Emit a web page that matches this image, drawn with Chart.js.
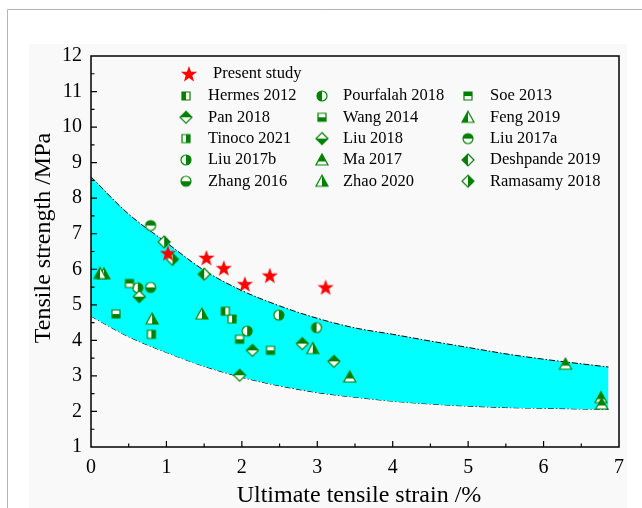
<!DOCTYPE html>
<html lang="en">
<head>
    <meta charset="UTF-8">
    <title>Tensile strength vs ultimate tensile strain</title>
    <script src="https://cdn.jsdelivr.net/npm/chart.js"></script>
    <style>
        body { margin: 0; background: #fff; }
        canvas { display: block; }
    </style>
</head>
<body>
    <canvas id="myChart" width="642" height="508"></canvas>
    <script>
        // present study
        const presentStrain = [1.02, 1.53, 1.76, 2.04, 2.37, 3.11];
        const presentStrength = [6.45, 6.32, 6.03, 5.58, 5.82, 5.49];

        // literature data, legend order (3 columns, row by row)
        const sources = ['Hermes 2012', 'Pourfalah 2018', 'Soe 2013', 'Pan 2018', 'Wang 2014', 'Feng 2019',
            'Tinoco 2021', 'Liu 2018', 'Liu 2017a', 'Liu 2017b', 'Ma 2017', 'Deshpande 2019',
            'Zhang 2016', 'Zhao 2020', 'Ramasamy 2018'];
        const sourceStrain = [
            [1.78], [2.99], [0.51], [2.14, 2.80, 3.22, 1.97], [0.33, 1.97, 2.38], [0.12],
            [1.87, 0.80], [0.64], [0.79], [0.62, 2.49, 2.07], [3.43, 6.29, 6.76, 6.77], [1.50],
            [0.79], [0.17, 0.81, 1.47, 2.94], [0.97, 1.08]
        ];
        const sourceStrength = [
            [4.82], [4.36], [5.60], [3.72, 3.91, 3.41, 3.02], [4.74, 4.03, 3.72], [5.88],
            [4.60, 4.17], [5.23], [7.23], [5.48, 4.71, 4.26], [2.97, 3.33, 2.39, 2.21], [5.86],
            [5.49], [5.87, 4.60, 4.74, 3.77], [6.77, 6.28]
        ];
        const sourceShape = ['square', 'circle', 'square', 'diamond', 'square', 'triangle',
            'square', 'diamond', 'circle', 'circle', 'triangle', 'diamond',
            'circle', 'triangle', 'diamond'];
        const sourceHalf = ['left', 'left', 'top', 'top', 'bottom', 'left',
            'right', 'bottom', 'top', 'right', 'top', 'left',
            'bottom', 'right', 'right'];

        // scatter band
        const bandStrain = [0, 0.5, 1, 1.5, 2, 2.5, 3, 3.5, 4, 4.5, 5, 5.5, 6, 6.5, 6.86];
        const bandUpper = [8.6, 7.55, 6.75, 5.97, 5.40, 4.97, 4.62, 4.35, 4.17, 3.98, 3.80, 3.62, 3.47, 3.34, 3.25];
        const bandLower = [4.68, 4.10, 3.66, 3.27, 2.96, 2.72, 2.53, 2.40, 2.29, 2.21, 2.15, 2.11, 2.09, 2.07, 2.06];

        const xTicks = [0, 1, 2, 3, 4, 5, 6, 7];
        const yTicks = [1, 2, 3, 4, 5, 6, 7, 8, 9, 10, 11, 12];

        const GREEN = '#008000';
        const SERIF = '"Liberation Serif", "Times New Roman", serif';

        function shapePath(ctx, shape) {
            ctx.beginPath();
            if (shape === 'square') {
                ctx.rect(-4, -4, 8, 8);
            } else if (shape === 'circle') {
                ctx.arc(0, 0, 5, 0, Math.PI * 2);
            } else if (shape === 'diamond') {
                ctx.moveTo(0, -6); ctx.lineTo(6, 0); ctx.lineTo(0, 6); ctx.lineTo(-6, 0); ctx.closePath();
            } else {
                ctx.moveTo(0, -6); ctx.lineTo(6, 5); ctx.lineTo(-6, 5); ctx.closePath();
            }
        }

        function makeMarker(shape, half) {
            const c = document.createElement('canvas');
            c.width = 16; c.height = 16;
            const ctx = c.getContext('2d');
            ctx.translate(8, 8);
            shapePath(ctx, shape);
            ctx.fillStyle = '#fff';
            ctx.fill();
            ctx.save();
            ctx.beginPath();
            const mid = shape === 'triangle' ? 1.5 : 0;
            if (half === 'left') ctx.rect(-8, -8, 8, 16);
            if (half === 'right') ctx.rect(0, -8, 8, 16);
            if (half === 'top') ctx.rect(-8, -8, 16, 8 + mid);
            if (half === 'bottom') ctx.rect(-8, mid, 16, 8);
            ctx.clip();
            shapePath(ctx, shape);
            ctx.fillStyle = GREEN;
            ctx.fill();
            ctx.restore();
            shapePath(ctx, shape);
            ctx.lineWidth = 1.2;
            ctx.strokeStyle = GREEN;
            ctx.stroke();
            return c;
        }

        function makeStar() {
            const c = document.createElement('canvas');
            c.width = 20; c.height = 20;
            const ctx = c.getContext('2d');
            ctx.translate(10, 10.5);
            ctx.beginPath();
            for (let i = 0; i < 10; i++) {
                const r = i % 2 === 0 ? 8.5 : 3.5;
                const a = -Math.PI / 2 + i * Math.PI / 5;
                ctx.lineTo(r * Math.cos(a), r * Math.sin(a));
            }
            ctx.closePath();
            ctx.fillStyle = '#ff0000';
            ctx.fill();
            return c;
        }

        const toPoints = (xs, ys) => xs.map((x, i) => ({ x: x, y: ys[i] }));

        const datasets = [];
        datasets.push({
            label: 'Present study',
            data: toPoints(presentStrain, presentStrength),
            pointStyle: makeStar(),
            pointRadius: 8,
            order: 0
        });
        sources.forEach((name, i) => {
            datasets.push({
                label: name,
                data: toPoints(sourceStrain[i], sourceStrength[i]),
                pointStyle: makeMarker(sourceShape[i], sourceHalf[i]),
                pointRadius: 6,
                order: 1
            });
        });
        const bandStyle = {
            showLine: true,
            borderColor: '#000',
            borderWidth: 1,
            borderDash: [6, 2, 1.5, 2],
            pointRadius: 0,
            tension: 0.4,
            cubicInterpolationMode: 'monotone',
            order: 2
        };
        datasets.push(Object.assign({
            label: 'upper',
            data: toPoints(bandStrain, bandUpper),
            fill: '+1',
            backgroundColor: '#00ffff'
        }, bandStyle));
        datasets.push(Object.assign({
            label: 'lower',
            data: toPoints(bandStrain, bandLower),
            fill: false
        }, bandStyle));

        const decor = {
            id: 'decor',
            beforeDraw(chart) {
                const ctx = chart.ctx;
                ctx.save();
                ctx.fillStyle = '#fff';
                ctx.fillRect(0, 0, chart.width, chart.height);
                ctx.fillStyle = '#f9f9f9';
                ctx.fillRect(29, 44, 598, 464);
                ctx.strokeStyle = '#b4b4b4';
                ctx.lineWidth = 1;
                ctx.beginPath();
                ctx.moveTo(7.5, chart.height); ctx.lineTo(7.5, 9.5); ctx.lineTo(chart.width, 9.5);
                ctx.stroke();
                ctx.restore();
            },
            afterDraw(chart) {
                const ctx = chart.ctx;
                const a = chart.chartArea;
                const xs = chart.scales.x, ys = chart.scales.y;
                ctx.save();
                // frame
                ctx.strokeStyle = '#000';
                ctx.lineWidth = 1.5;
                ctx.strokeRect(a.left, a.top, a.right - a.left, a.bottom - a.top);
                // inward ticks
                ctx.lineWidth = 1.2;
                ctx.beginPath();
                for (let v = 0.5; v < 7; v += 0.5) {
                    const px = xs.getPixelForValue(v);
                    const len = Number.isInteger(v) ? 6 : 3.5;
                    ctx.moveTo(px, a.bottom); ctx.lineTo(px, a.bottom - len);
                }
                for (let v = 1.5; v < 12; v += 0.5) {
                    const py = ys.getPixelForValue(v);
                    const len = Number.isInteger(v) ? 6 : 3.5;
                    ctx.moveTo(a.left, py); ctx.lineTo(a.left + len, py);
                }
                ctx.stroke();
                // axis titles
                ctx.fillStyle = '#000';
                ctx.font = '24px ' + SERIF;
                ctx.textAlign = 'center';
                ctx.textBaseline = 'middle';
                ctx.fillText('Ultimate tensile strain /%', 359, 496);
                ctx.save();
                ctx.translate(44, 238);
                ctx.rotate(-Math.PI / 2);
                ctx.fillText('Tensile strength /MPa', 0, 0);
                ctx.restore();
                // legend
                ctx.font = '16.5px ' + SERIF;
                ctx.textAlign = 'left';
                const ds = chart.data.datasets;
                const star = ds[0].pointStyle;
                ctx.drawImage(star, 189 - star.width / 2, 74 - star.height / 2);
                ctx.fillText(ds[0].label, 213, 74);
                const colMarker = [186, 322, 468];
                const colText = [208, 343, 490];
                for (let i = 0; i < sources.length; i++) {
                    const col = i % 3, row = Math.floor(i / 3);
                    const y = 96 + row * 21.3;
                    const img = ds[i + 1].pointStyle;
                    ctx.drawImage(img, colMarker[col] - img.width / 2, y - img.height / 2);
                    ctx.fillText(ds[i + 1].label, colText[col], y);
                }
                ctx.restore();
            }
        };

        new Chart(document.getElementById('myChart'), {
            type: 'scatter',
            data: { datasets: datasets },
            options: {
                responsive: false,
                animation: false,
                devicePixelRatio: 1,
                layout: { padding: { top: 56, right: 23, left: 0, bottom: 0 } },
                plugins: {
                    legend: { display: false },
                    tooltip: { enabled: false }
                },
                scales: {
                    x: {
                        type: 'linear',
                        min: 0, max: 7,
                        afterBuildTicks: s => { s.ticks = xTicks.map(v => ({ value: v })); },
                        afterFit: s => { s.height = 61; },
                        grid: { display: false, drawTicks: false },
                        border: { display: false },
                        ticks: { color: '#000', font: { family: SERIF, size: 20 }, padding: 9 }
                    },
                    y: {
                        type: 'linear',
                        min: 1, max: 12,
                        afterBuildTicks: s => { s.ticks = yTicks.map(v => ({ value: v })); },
                        afterFit: s => { s.width = 91; },
                        grid: { display: false, drawTicks: false },
                        border: { display: false },
                        ticks: { color: '#000', font: { family: SERIF, size: 20 }, padding: 9 }
                    }
                }
            },
            plugins: [decor]
        });
    </script>
</body>
</html>
